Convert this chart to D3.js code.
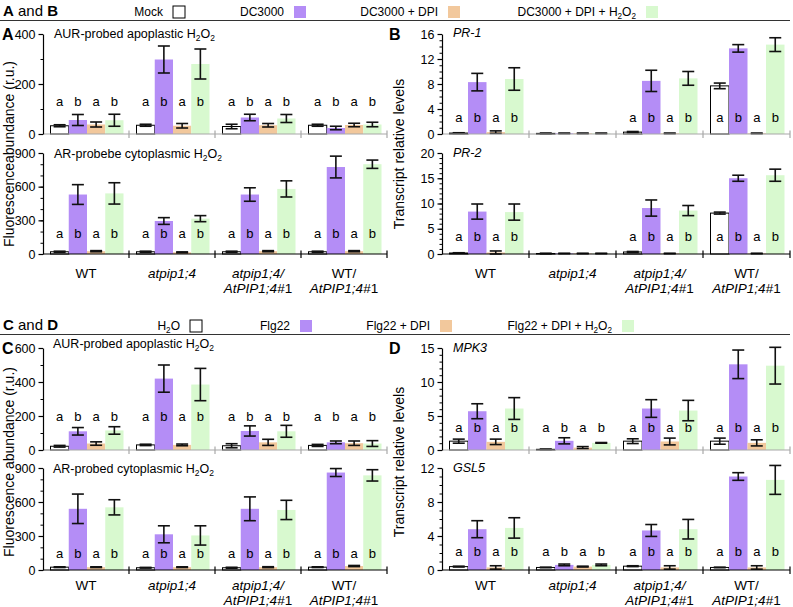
<!DOCTYPE html>
<html><head><meta charset="utf-8">
<script src="https://cdn.jsdelivr.net/npm/d3@7"></script>
<style>body{margin:0;background:#fff}svg{display:block;font-family:"Liberation Sans",Arial,sans-serif}</style>
</head><body><svg id="c" width="793" height="607"></svg>
<script>
// ---------- data ----------
const groups = ["WT", "atpip1;4", "atpip1;4/AtPIP1;4#1", "WT/AtPIP1;4#1"];
const treatAB = ["Mock", "DC3000", "DC3000 + DPI", "DC3000 + DPI + H2O2"];
const treatCD = ["H2O", "Flg22", "Flg22 + DPI", "Flg22 + DPI + H2O2"];
const sigLetters = ["a", "b", "a", "b"];
const groupLines = [
  [[{t: "WT", i: false}]],
  [[{t: "atpip1;4", i: true}]],
  [[{t: "atpip1;4/", i: true}], [{t: "AtPIP1;4", i: true}, {t: "#1", i: false}]],
  [[{t: "WT/", i: false}], [{t: "AtPIP1;4", i: true}, {t: "#1", i: false}]]
];
// A: AUR apoplastic (DC3000)
const aAurMean = [[33, 56, 38, 55], [35, 298, 33, 280], [30, 66, 35, 62], [35, 24, 36, 38]];
const aAurErr  = [[4, 22, 10, 24], [4, 54, 9, 60], [9, 13, 7, 16], [4, 7, 7, 9]];
const aAurTicks = [0, 200, 400];
// A: AR cytoplasmic (DC3000)
const aArMean = [[20, 530, 25, 540], [20, 294, 15, 315], [20, 530, 25, 580], [20, 775, 25, 800]];
const aArErr  = [[5, 88, 5, 95], [5, 30, 4, 27], [5, 60, 5, 72], [5, 97, 5, 37]];
const aArTicks = [0, 300, 600, 900];
// B: PR-1
const bPr1Mean = [[0.15, 8.3, 0.3, 8.8], [0.1, 0.1, 0.1, 0.1], [0.3, 8.5, 0.1, 8.9], [7.7, 13.7, 0.1, 14.3]];
const bPr1Err  = [[0.05, 1.4, 0.2, 1.8], [0.05, 0.05, 0.05, 0.05], [0.1, 1.7, 0.05, 1.1], [0.45, 0.6, 0.05, 1.1]];
const bPr1Ticks = [0, 4, 8, 12, 16];
// B: PR-2
const bPr2Mean = [[0.2, 8.4, 0.3, 8.3], [0.1, 0.1, 0.1, 0.1], [0.4, 9.1, 0.1, 8.6], [8.1, 15.0, 0.1, 15.6]];
const bPr2Err  = [[0.05, 1.5, 0.3, 1.6], [0.05, 0.05, 0.05, 0.05], [0.1, 1.6, 0.05, 1.0], [0.2, 0.6, 0.05, 1.2]];
const bPr2Ticks = [0, 5, 10, 15, 20];
// C: AUR apoplastic (Flg22)
const cAurMean = [[22, 110, 38, 115], [30, 420, 30, 385], [25, 112, 45, 110], [27, 45, 40, 38]];
const cAurErr  = [[5, 22, 10, 22], [4, 80, 5, 95], [12, 30, 18, 35], [6, 8, 13, 17]];
const cAurTicks = [0, 200, 400, 600];
// C: AR cytoplasmic (Flg22)
const cArMean = [[25, 540, 25, 553], [20, 315, 25, 305], [20, 540, 25, 530], [25, 860, 35, 835]];
const cArErr  = [[3, 130, 3, 67], [3, 75, 3, 85], [4, 105, 4, 85], [3, 35, 5, 50]];
const cArTicks = [0, 300, 600, 900];
// D: MPK3
const dMpk3Mean = [[1.3, 5.7, 1.2, 6.1], [0.1, 1.35, 0.35, 1.05], [1.3, 6.1, 1.25, 5.8], [1.3, 12.6, 1.05, 12.4]];
const dMpk3Err  = [[0.3, 1.1, 0.4, 1.6], [0.03, 0.45, 0.15, 0.05], [0.35, 1.3, 0.5, 1.5], [0.45, 2.1, 0.45, 2.7]];
const dMpk3Ticks = [0, 5, 10, 15];
// D: GSL5
const dGsl5Mean = [[0.4, 4.8, 0.3, 4.95], [0.3, 0.6, 0.4, 0.6], [0.45, 4.65, 0.3, 4.8], [0.3, 11.0, 0.3, 10.6]];
const dGsl5Err  = [[0.05, 1.0, 0.2, 1.2], [0.03, 0.1, 0.05, 0.1], [0.05, 0.7, 0.2, 1.15], [0.03, 0.45, 0.2, 1.7]];
const dGsl5Ticks = [0, 4, 8, 12];

const colors = ["#ffffff", "#b48df6", "#f2c89c", "#d8f9cf"];
const FONT = '"Liberation Sans", Arial, sans-serif';

// ---------- helpers ----------
const svg = d3.select("#c");
function rich(sel, str) {
  const parts = str.split(/(H2O2|H2O)/);
  parts.forEach(p => {
    if (p === "H2O2" || p === "H2O") {
      sel.append("tspan").text("H");
      sel.append("tspan").attr("font-size", "0.68em").attr("dy", 3).text("2");
      sel.append("tspan").attr("dy", -3).text("O");
      if (p === "H2O2") {
        sel.append("tspan").attr("font-size", "0.68em").attr("dy", 3).text("2");
        sel.append("tspan").attr("dy", -3).text("");
      }
    } else if (p.length) sel.append("tspan").text(p);
  });
}

// ---------- headers ----------
function header(y, first, second, treat, pos) {
  const t = svg.append("text").attr("x", 3).attr("y", y).attr("font-size", 15);
  t.append("tspan").attr("font-weight", "bold").text(first);
  t.append("tspan").text(" and ");
  t.append("tspan").attr("font-weight", "bold").text(second);
  treat.forEach((name, i) => {
    const tx = svg.append("text").attr("x", pos[i]).attr("y", y).attr("font-size", 12)
      .attr("text-anchor", "end");
    rich(tx, name);
    svg.append("rect").attr("x", pos[i] + 10).attr("y", y - 10).attr("width", 12).attr("height", 12)
      .attr("fill", colors[i]).attr("stroke", i === 0 ? "#000" : "none").attr("stroke-width", 1);
  });
  svg.append("line").attr("x1", 0).attr("x2", 790).attr("y1", y + 4.5).attr("y2", y + 4.5)
    .attr("stroke", "#333").attr("stroke-width", 1);
}
header(16, "A", "B", treatAB, [163, 284, 438, 636]);
header(330, "C", "D", treatCD, [180, 290, 430, 612]);

// ---------- panels ----------
const panels = [
  {mean: aAurMean, err: aAurErr, ticks: aAurTicks, minor: 100, x0: 43, x1: 387, yT: 34, yB: 134,
   title: "AUR-probed apoplastic H2O2", it: false, tx: 54, ty: 38, ly: 106, ax: "#a8a8a8", show: [1,1,1,1], cats: false, letter: "A"},
  {mean: aArMean, err: aArErr, ticks: aArTicks, minor: 100, x0: 43, x1: 387, yT: 153, yB: 254,
   title: "AR-probebe cytoplasmic H2O2", it: false, tx: 54, ty: 158, ly: 238, ax: "#000", show: [1,1,1,1], cats: 278},
  {mean: bPr1Mean, err: bPr1Err, ticks: bPr1Ticks, minor: 1, x0: 442, x1: 790, yT: 34, yB: 134,
   title: "PR-1", it: true, tx: 453, ty: 37, ly: 122, ax: "#a8a8a8", show: [1,0,1,1], cats: false, letter: "B"},
  {mean: bPr2Mean, err: bPr2Err, ticks: bPr2Ticks, minor: 1, x0: 442, x1: 790, yT: 153, yB: 254,
   title: "PR-2", it: true, tx: 453, ty: 157, ly: 241, ax: "#000", show: [1,0,1,1], cats: 278},
  {mean: cAurMean, err: cAurErr, ticks: cAurTicks, minor: 100, x0: 43, x1: 387, yT: 348, yB: 450,
   title: "AUR-probed apoplastic H2O2", it: false, tx: 53, ty: 348, ly: 421, ax: "#a8a8a8", show: [1,1,1,1], cats: false, letter: "C"},
  {mean: cArMean, err: cArErr, ticks: cArTicks, minor: 100, x0: 43, x1: 387, yT: 468, yB: 570,
   title: "AR-probed cytoplasmic H2O2", it: false, tx: 53, ty: 473, ly: 558, ax: "#000", show: [1,1,1,1], cats: 590},
  {mean: dMpk3Mean, err: dMpk3Err, ticks: dMpk3Ticks, minor: 1, x0: 442, x1: 790, yT: 348, yB: 450,
   title: "MPK3", it: true, tx: 453, ty: 352, ly: 432, ax: "#a8a8a8", show: [1,1,1,1], cats: false, letter: "D"},
  {mean: dGsl5Mean, err: dGsl5Err, ticks: dGsl5Ticks, minor: 1, x0: 442, x1: 790, yT: 468, yB: 570,
   title: "GSL5", it: true, tx: 453, ty: 472, ly: 556, ax: "#000", show: [1,1,1,1], cats: 590}
];

panels.forEach(p => {
  const g = svg.append("g");
  const maxV = p.ticks[p.ticks.length - 1];
  const y = d3.scaleLinear().domain([0, maxV]).range([p.yB, p.yT]);
  const xg = d3.scaleBand().domain(groups).range([p.x0, p.x1]).padding(0);
  const gw = xg.bandwidth();
  const xs = d3.scaleBand().domain([0, 1, 2, 3]).range([7.5, gw - 5.5]).padding(0);
  const bw = xs.bandwidth();

  // bars
  groups.forEach((grp, gi) => {
    p.mean[gi].forEach((v, si) => {
      g.append("rect").attr("x", xg(grp) + xs(si)).attr("width", bw)
        .attr("y", y(v)).attr("height", p.yB - y(v))
        .attr("fill", colors[si]).attr("stroke", si === 0 ? "#000" : "none").attr("stroke-width", 1);
    });
  });
  // letters
  groups.forEach((grp, gi) => {
    if (!p.show[gi]) return;
    sigLetters.forEach((l, si) => {
      g.append("text").attr("x", xg(grp) + xs(si) + bw / 2).attr("y", p.ly)
        .attr("text-anchor", "middle").attr("font-size", 13).text(l);
    });
  });
  // error bars
  groups.forEach((grp, gi) => {
    p.mean[gi].forEach((v, si) => {
      const e = p.err[gi][si];
      const cx = xg(grp) + xs(si) + bw / 2;
      const lo = Math.max(0, v - e), hi = v + e;
      const eg = g.append("g").attr("stroke", "#111").attr("stroke-width", 1.6);
      eg.append("line").attr("x1", cx).attr("x2", cx).attr("y1", y(lo)).attr("y2", y(hi));
      eg.append("line").attr("x1", cx - 6).attr("x2", cx + 6).attr("y1", y(lo)).attr("y2", y(lo));
      eg.append("line").attr("x1", cx - 6).attr("x2", cx + 6).attr("y1", y(hi)).attr("y2", y(hi));
    });
  });

  // x axis
  g.append("line").attr("x1", p.x0).attr("x2", p.x1).attr("y1", p.yB).attr("y2", p.yB)
    .attr("stroke", p.ax).attr("stroke-width", 1.2);
  groups.forEach(grp => {
    const xx = xg(grp) + gw;
    g.append("line").attr("x1", xx).attr("x2", xx).attr("y1", p.yB - 3.5).attr("y2", p.yB + 4)
      .attr("stroke", p.ax).attr("stroke-width", 1.2);
  });

  // y axis (minor then major via d3.axisLeft)
  const minorTicks = d3.range(0, maxV + p.minor / 2, p.minor);
  g.append("g").attr("transform", `translate(${p.x0},0)`)
    .call(d3.axisLeft(y).tickValues(minorTicks).tickSize(2.5).tickFormat(""))
    .call(a => a.select(".domain").remove())
    .selectAll("line").attr("stroke", "#000");
  const ay = g.append("g").attr("transform", `translate(${p.x0},0)`)
    .call(d3.axisLeft(y).tickValues(p.ticks).tickSize(4.5).tickSizeOuter(0).tickPadding(3));
  ay.select(".domain").attr("stroke", "#000").attr("stroke-width", 1.2);
  ay.selectAll("text").attr("font-size", 12.5).attr("font-family", FONT).attr("fill", "#000");
  ay.selectAll("line").attr("stroke", "#000").attr("stroke-width", 1.2);

  // title
  const t = g.append("text").attr("x", p.tx).attr("y", p.ty).attr("font-size", 12.5)
    .attr("font-style", p.it ? "italic" : "normal");
  rich(t, p.title);

  // panel letter
  if (p.letter) {
    g.append("text").attr("x", p.x0 < 100 ? 2 : 389).attr("y", p.yT + 5.5)
      .attr("font-size", 16).attr("font-weight", "bold").text(p.letter);
  }

  // category labels
  if (p.cats) {
    groups.forEach((grp, gi) => {
      groupLines[gi].forEach((line, li) => {
        const tt = g.append("text").attr("x", xg(grp) + gw / 2).attr("y", p.cats + li * 15)
          .attr("text-anchor", "middle").attr("font-size", 13.5);
        line.forEach(seg => tt.append("tspan").attr("font-style", seg.i ? "italic" : "normal").text(seg.t));
      });
    });
  }
});

// y axis titles
function ytitle(x, y, str) {
  svg.append("text").attr("transform", `translate(${x},${y}) rotate(-90)`)
    .attr("text-anchor", "middle").attr("font-size", 14).text(str);
}
ytitle(14, 154, "Fluorescenceabundance (r.u.)");
ytitle(404, 154, "Transcript relative levels");
ytitle(14, 462, "Fluorescence abundance (r.u.)");
ytitle(404, 462, "Transcript relative levels");
</script></body></html>
